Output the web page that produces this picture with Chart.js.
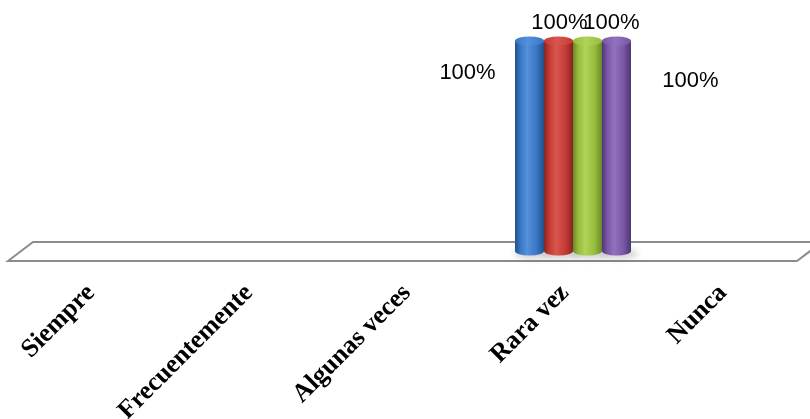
<!DOCTYPE html>
<html>
<head>
<meta charset="utf-8">
<script src="https://cdn.jsdelivr.net/npm/chart.js@4/dist/chart.umd.min.js"></script>
<style>
html,body{margin:0;padding:0;background:#fff;}
#wrap{width:810px;height:419px;position:relative;}
</style>
</head>
<body>
<div id="wrap"><canvas id="c" width="810" height="419"></canvas></div>
<script>
// ---- data ----
const categories = ['Siempre', 'Frecuentemente', 'Algunas veces', 'Rara vez', 'Nunca'];
const seriesNames = ['Serie 1', 'Serie 2', 'Serie 3', 'Serie 4'];
const serie1 = [0, 0, 0, 100, 0];
const serie2 = [0, 0, 0, 100, 0];
const serie3 = [0, 0, 0, 100, 0];
const serie4 = [0, 0, 0, 100, 0];
const yTicks = [0, 100];

// ---- styles ----
const palette = [
  {edge:'#22508a', mid:'#3876c4', light:'#5590da', top:'#4a86d0'},
  {edge:'#862520', mid:'#c43a34', light:'#da5650', top:'#d04842'},
  {edge:'#68882a', mid:'#97bd3c', light:'#b0d258', top:'#a4c84a'},
  {edge:'#4d3670', mid:'#7956a6', light:'#9272bd', top:'#8663b2'}
];
const labelOffsets = [[-62, 32], [1, -18], [24, -18], [74, 40]];

const floorPlugin = {
  id: 'floor',
  beforeDatasetsDraw(chart) {
    const {ctx, chartArea} = chart;
    const y0 = chart.scales.y.getPixelForValue(0);
    ctx.save();
    ctx.beginPath();
    ctx.moveTo(chartArea.left - 12, y0 + 10);
    ctx.lineTo(chartArea.left + 13, y0 - 9);
    ctx.lineTo(chartArea.right + 12, y0 - 9);
    ctx.lineTo(chartArea.right - 13, y0 + 10);
    ctx.closePath();
    ctx.fillStyle = '#ffffff';
    ctx.fill();
    ctx.lineWidth = 2;
    ctx.strokeStyle = '#8c8c8c';
    ctx.stroke();
    ctx.restore();
  }
};

const cylinderPlugin = {
  id: 'cylinders',
  afterDatasetsDraw(chart) {
    const {ctx} = chart;
    chart.data.datasets.forEach((ds, di) => {
      const meta = chart.getDatasetMeta(di);
      meta.data.forEach((bar, i) => {
        if (!ds.data[i]) return;
        ctx.save();
        ctx.fillStyle = 'rgba(0,0,0,0.18)';
        ctx.filter = 'blur(3px)';
        ctx.beginPath();
        ctx.ellipse(bar.x + 3, bar.base + 3, bar.width / 2 + 4, 5, 0, 0, Math.PI * 2);
        ctx.fill();
        ctx.restore();
      });
    });
    chart.data.datasets.forEach((ds, di) => {
      const meta = chart.getDatasetMeta(di);
      const c = palette[di];
      meta.data.forEach((bar, i) => {
        if (!ds.data[i]) return;
        const rx = bar.width / 2, ry = 4.5;
        const x = bar.x, top = bar.y, base = bar.base;
        ctx.save();
        const g = ctx.createLinearGradient(x - rx, 0, x + rx, 0);
        g.addColorStop(0, c.edge);
        g.addColorStop(0.18, c.mid);
        g.addColorStop(0.42, c.light);
        g.addColorStop(0.75, c.mid);
        g.addColorStop(1, c.edge);
        ctx.beginPath();
        ctx.moveTo(x - rx, top);
        ctx.lineTo(x - rx, base);
        ctx.ellipse(x, base, rx, ry, 0, Math.PI, 0, true);
        ctx.lineTo(x + rx, top);
        ctx.closePath();
        ctx.fillStyle = g;
        ctx.fill();
        const gt = ctx.createLinearGradient(x - rx, 0, x + rx, 0);
        gt.addColorStop(0, c.mid);
        gt.addColorStop(0.45, c.light);
        gt.addColorStop(1, c.mid);
        ctx.beginPath();
        ctx.ellipse(x, top, rx, ry, 0, 0, Math.PI * 2);
        ctx.fillStyle = gt;
        ctx.fill();
        ctx.restore();
      });
    });
    ctx.save();
    ctx.font = '22px "Liberation Sans", Arial, sans-serif';
    ctx.fillStyle = '#000';
    ctx.textAlign = 'center';
    ctx.textBaseline = 'middle';
    chart.data.datasets.forEach((ds, di) => {
      const meta = chart.getDatasetMeta(di);
      meta.data.forEach((bar, i) => {
        if (!ds.data[i]) return;
        const [dx, dy] = labelOffsets[di];
        ctx.fillText(ds.data[i] + '%', bar.x + dx, bar.y + dy);
      });
    });
    ctx.restore();
  }
};

const seriesValues = [serie1, serie2, serie3, serie4];
new Chart(document.getElementById('c'), {
  type: 'bar',
  data: {
    labels: categories,
    datasets: seriesValues.map((vals, i) => ({
      label: seriesNames[i],
      data: vals,
      backgroundColor: 'rgba(0,0,0,0)',
      borderWidth: 0,
      categoryPercentage: 0.734,
      barPercentage: 1.0
    }))
  },
  options: {
    responsive: false,
    animation: false,
    layout: {padding: {top: 41, left: 20, right: 0, bottom: 0}},
    plugins: {legend: {display: false}, tooltip: {enabled: false}},
    scales: {
      x: {
        grid: {display: false},
        border: {display: false},
        ticks: {
          autoSkip: false,
          minRotation: 45,
          maxRotation: 45,
          color: '#000',
          padding: 19,
          labelOffset: -8,
          font: {family: '"Liberation Serif", "Times New Roman", serif', size: 26, weight: 'bold'}
        },
        afterFit(s) { s.height = 168; }
      },
      y: {
        display: false,
        min: yTicks[0],
        max: yTicks[yTicks.length - 1]
      }
    }
  },
  plugins: [floorPlugin, cylinderPlugin]
});
</script>
</body>
</html>
